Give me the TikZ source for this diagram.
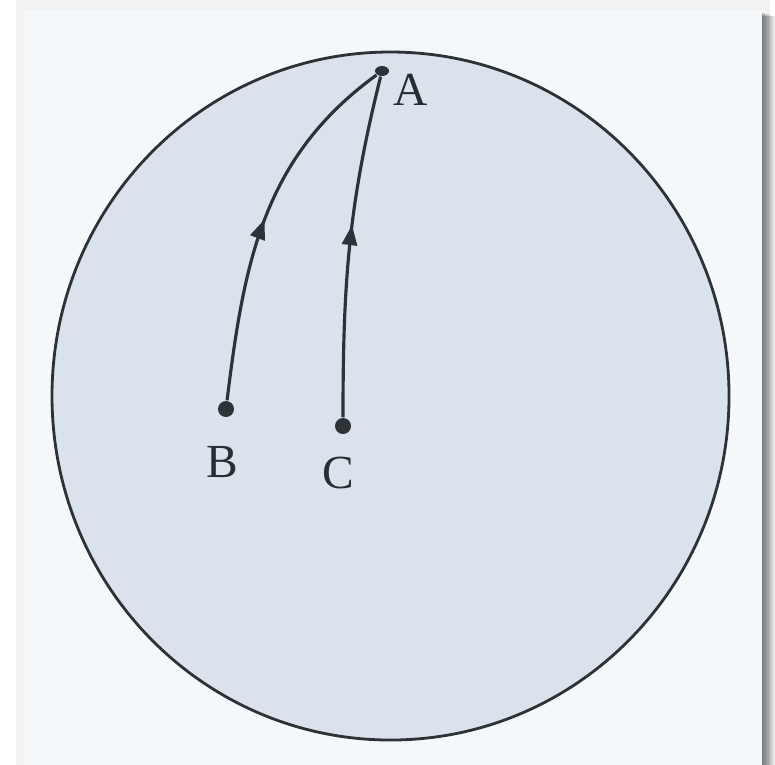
\documentclass[tikz,border=0pt]{standalone}
\usepackage{fontspec}
\setmainfont{Liberation Serif}
\usetikzlibrary{arrows.meta, positioning, decorations.markings, shapes.geometric}

\definecolor{paper}{RGB}{244,248,251}
\definecolor{discfill}{RGB}{218,226,236}
\definecolor{ink}{RGB}{45,50,55}

\tikzset{
	dot/.style={circle, fill=ink, inner sep=0pt, minimum size=1.6mm},
	lbl/.style={font=\fontsize{13.5}{15}\selectfont, text=ink!90!black},
	path line/.style={ink, line width=0.9pt},
	mid arrow/.style={postaction={decorate, decoration={markings,
		mark=at position #1 with {\arrow{Triangle[length=2mm, width=1.5mm]}}}}}
}

\begin{document}
\begin{tikzpicture}[>=stealth]
		
		% Sfondo e pagina con ombra
		\useasboundingbox (0,0) rectangle (7.75,7.64);
		\fill[white] (0,0) rectangle (7.75,7.64);
		\fill[black, opacity=0.05] (0.16,-0.1) rectangle (7.70,7.64);
		\foreach \s in {0.02,0.04,...,0.14} {
			\fill[black, opacity=0.09] (0.30,-0.1) rectangle (7.61+\s,7.52-0.3*\s);
		}
		\fill[paper] (0.24,-0.1) rectangle (7.62,7.54);
		
		% Disco
		\draw[ink, line width=0.8pt, fill=discfill] (3.905,3.68) ellipse [x radius=3.385, y radius=3.44];
		
		% Punti
		\node[ellipse, fill=ink, inner sep=0pt, minimum width=1.4mm, minimum height=1.0mm] (P_A) at (3.82,6.93) {};
		\node[dot] (P_B) at (2.26,3.55) {};
		\node[dot] (P_C) at (3.43,3.38) {};
		
		% Etichette
		\node[lbl] (L_A) at (4.11,6.74) {A};
		\node[lbl, below=0.16cm of P_B, xshift=-0.4mm] (L_B) {B};
		\node[lbl, below=0.10cm of P_C, xshift=-0.5mm] (L_C) {C};
		
		% Traiettorie verso A
		\draw[path line, mid arrow=0.5] (P_B) to[out=83, in=216] (P_A);
		\draw[path line, mid arrow=0.56] (P_C) to[out=90, in=256] (P_A);
		
	\end{tikzpicture}
\end{document}
